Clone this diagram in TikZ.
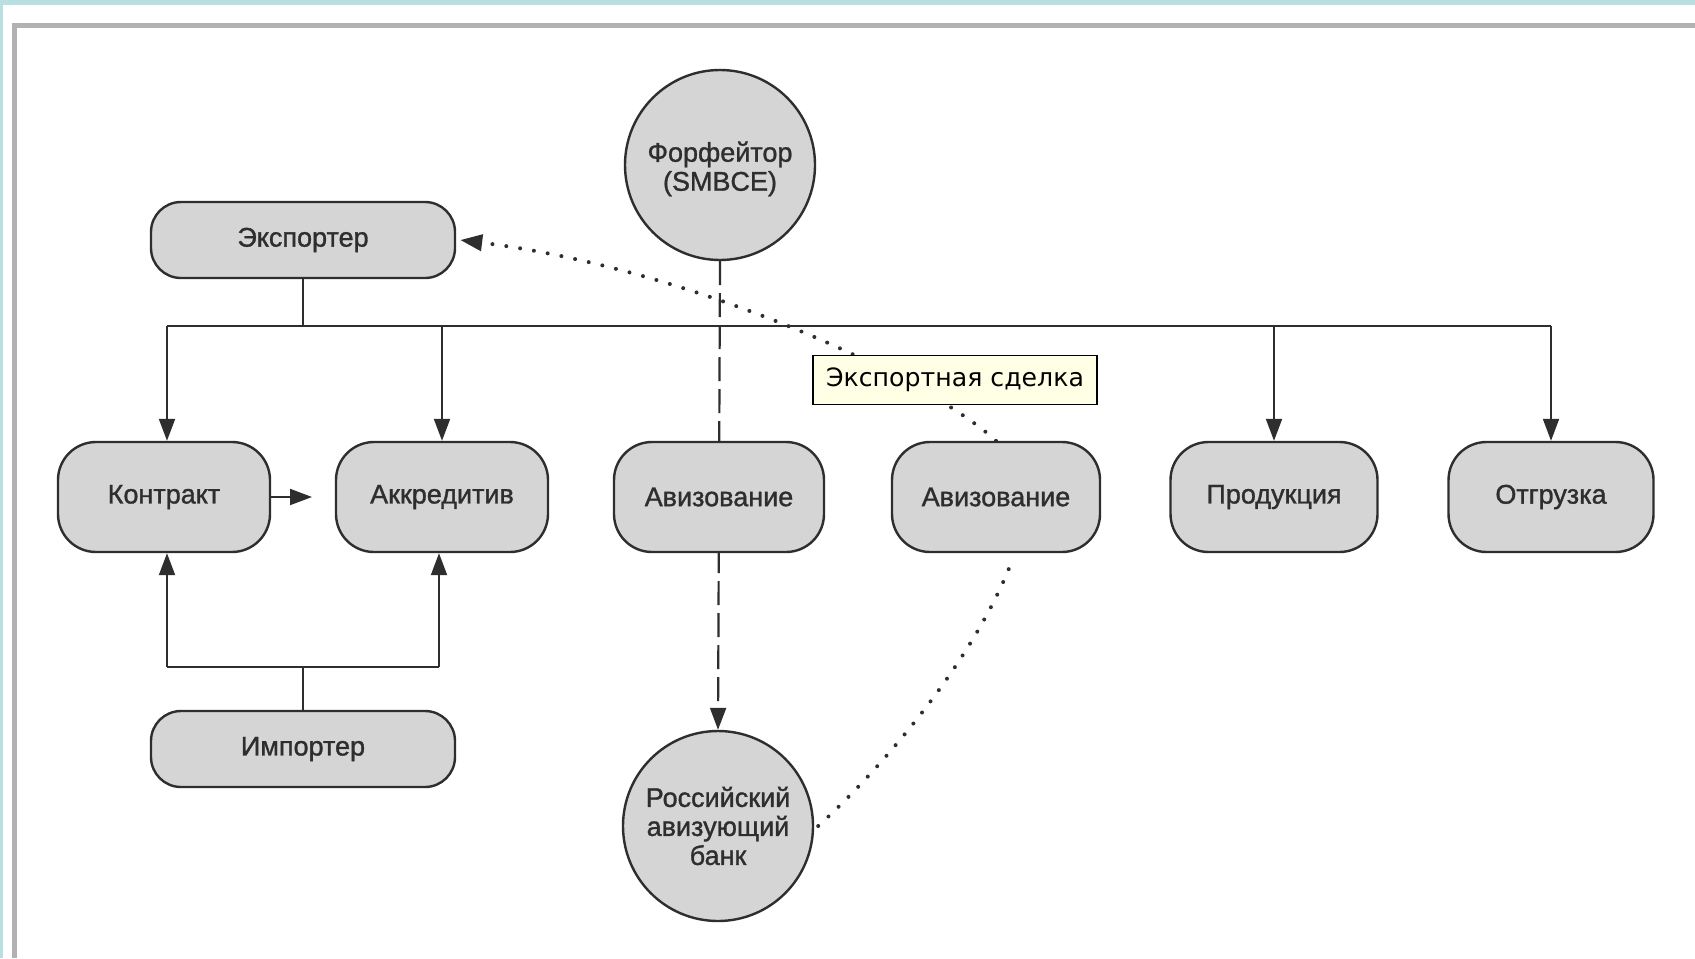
\documentclass[tikz,border=0pt]{standalone}
\usepackage{fontspec}
\setmainfont{Liberation Sans}
\newfontfamily\boxfont{Liberation Sans}[FakeBold=1.2]
\newfontfamily\notefont{DejaVu Sans}
\usetikzlibrary{arrows.meta}

\definecolor{band}{HTML}{B9DFE3}
\definecolor{frameline}{HTML}{B2B2B2}
\definecolor{nodefill}{HTML}{D5D5D5}
\definecolor{ink}{HTML}{2E2E2E}
\definecolor{notefill}{HTML}{FFFFE6}

\pgfdeclarelayer{behind}
\pgfsetlayers{behind,main}

\begin{document}
\begin{tikzpicture}[x=0.5pt,y=-0.5pt,
  box/.style={draw=ink, line width=1.2pt, fill=nodefill, rounded corners=19pt,
    minimum height=55pt, inner sep=0pt, text=ink,
    font=\boxfont\fontsize{13.5}{15}\selectfont},
  wide/.style={box, minimum width=152pt, minimum height=38pt, rounded corners=15pt},
  roundnode/.style={circle, draw=ink, line width=1.2pt, fill=nodefill,
    minimum size=95pt, inner sep=0pt, align=center, text=ink,
    font=\boxfont\fontsize{13.5}{14.5}\selectfont},
  note/.style={draw=black, line width=0.9pt, fill=notefill, inner sep=0pt,
    minimum width=142pt, minimum height=24.5pt,
    font=\notefont\fontsize{12.6}{14}\selectfont},
  conn/.style={draw=ink, line width=1pt},
  arr/.style={conn, -{Triangle[length=11pt,width=8pt]}},
  dashline/.style={arr, line width=1.1pt, dash pattern=on 12pt off 4pt},
  dotline/.style={draw=ink, line width=2pt, line cap=round,
    dash pattern=on 0pt off 7pt},
]
\useasboundingbox (0,0) rectangle (1695,958);

% participants
\node[wide] (exp) at (303,240) {Экспортер};
\node[wide] (imp) at (303,749) {Импортер};
\node[box, minimum width=106pt] (kon) at (164,497) {Контракт};
\node[box, minimum width=106pt] (akk) at (442,497) {Аккредитив};
\node[box, minimum width=105pt] (av1) at (719,497) {Авизование};
\node[box, minimum width=104pt] (av2) at (996,497) {Авизование};
\node[box, minimum width=103.5pt] (prod) at (1274,497) {Продукция};
\node[box, minimum width=102.5pt] (otg) at (1551,497) {Отгрузка};
\node[roundnode] (forf) at (720,165) {\rule{0pt}{14pt}Форфейтор\\(SMBCE)};
\node[roundnode] (ros) at (718,826) {Российский\\авизующий\\банк};
\node[note] (deal) at (955,380) {Экспортная сделка};

% junction points
\coordinate (bus) at (303,326);
\coordinate (ibus) at (303,667);
\coordinate (konhead) at (312,497);

% exporter distribution bus
\draw[conn] (exp.south) -- (bus);
\draw[conn] ([xshift=1.5pt]kon.north |- bus) -- (otg.north |- bus);
\draw[arr] ([xshift=1.5pt]kon.north |- bus) -- ([xshift=1.5pt]kon.north);
\draw[arr] (akk.north |- bus) -- (akk.north);
\draw[arr] (prod.north |- bus) -- (prod.north);
\draw[arr] (otg.north |- bus) -- (otg.north);

% importer links
\draw[conn] (imp.north) -- (ibus);
\draw[conn] ([xshift=1.5pt]kon.south |- ibus) -- ([xshift=-1.5pt]akk.south |- ibus);
\draw[arr] ([xshift=1.5pt]kon.south |- ibus) -- ([xshift=1.5pt]kon.south);
\draw[arr] ([xshift=-1.5pt]akk.south |- ibus) -- ([xshift=-1.5pt]akk.south);

% contract to letter of credit
\draw[arr] (kon.east) -- (konhead);

\begin{pgfonlayer}{behind}
  % page frame
  \fill[white] (0,0) rectangle (1695,958);
  \fill[band] (0,0) rectangle (1695,5);
  \fill[band] (0,0) rectangle (3,958);
  \draw[frameline, line width=2.5pt] (14.5,958) -- (14.5,25.5) -- (1695,25.5);
  % forfaiter to advising bank, behind the advising box
  \draw[dashline] (forf.south) -- (ros.north);
  % export deal path
  \draw[dotline, -{Triangle[length=11pt,width=8pt]}]
    (av2.north) .. controls (930,380) and (700,270) .. ([xshift=2pt]exp.east);
  \draw[dotline]
    ([xshift=2pt]ros.east) .. controls (880,770) and (975,660) .. ([xshift=8.5pt,yshift=-2.5pt]av2.south);
\end{pgfonlayer}
\end{tikzpicture}
\end{document}
